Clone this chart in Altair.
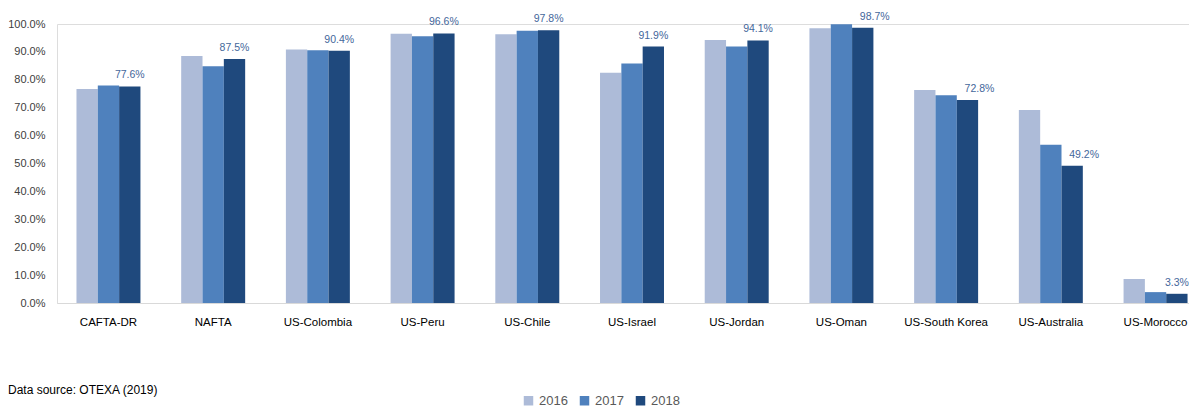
import altair as alt
import pandas as pd

categories = ["CAFTA-DR", "NAFTA", "US-Colombia", "US-Peru", "US-Chile", "US-Israel",
              "US-Jordan", "US-Oman", "US-South Korea", "US-Australia", "US-Morocco"]
years = ["2016", "2017", "2018"]
v2016 = [0.767, 0.885, 0.909, 0.965, 0.963, 0.825, 0.943, 0.985, 0.763, 0.692, 0.086]
v2017 = [0.780, 0.849, 0.906, 0.956, 0.976, 0.858, 0.919, 0.999, 0.745, 0.567, 0.039]
v2018 = [0.776, 0.875, 0.904, 0.966, 0.978, 0.919, 0.941, 0.987, 0.728, 0.492, 0.033]
y_ticks = [0.0, 0.1, 0.2, 0.3, 0.4, 0.5, 0.6, 0.7, 0.8, 0.9, 1.0]
shifted_labels = ["US-Oman", "US-South Korea", "US-Australia"]
colors = ["#ADBBD8", "#4F81BD", "#1F497D"]

rows = []
for i, c in enumerate(categories):
    for y, vals in zip(years, [v2016, v2017, v2018]):
        rows.append({"agreement": c, "year": y, "value": vals[i]})
df = pd.DataFrame(rows)
labels_df = df[df["year"] == "2018"].copy()
labels_plain = labels_df[~labels_df["agreement"].isin(shifted_labels)]
labels_shift = labels_df[labels_df["agreement"].isin(shifted_labels)]

FONT = "Liberation Sans"

x_enc = alt.X("agreement:N", sort=categories, title=None,
              scale=alt.Scale(paddingInner=0.389, paddingOuter=0.1, align=0.93),
              axis=alt.Axis(labelAngle=0, ticks=False, domainColor="#D9D9D9", labelPadding=13,
                            labelFontSize=11.5, labelColor="#000000", labelFont=FONT,
                            labelOverlap=False, labelBound=False))
y_enc = alt.Y("value:Q", title=None, scale=alt.Scale(domain=[0, 1], nice=False),
              axis=alt.Axis(format=".1%", values=y_ticks, tickCount=11, ticks=False,
                            domain=False, grid=False, labelFontSize=11, labelColor="#404040",
                            labelFont=FONT, labelPadding=12, labelOverlap=False))
xo_enc = alt.XOffset("year:N", sort=years, scale=alt.Scale(paddingInner=0, paddingOuter=0))

bars = alt.Chart(df).mark_bar().encode(
    x=x_enc,
    xOffset=xo_enc,
    y=y_enc,
    color=alt.Color("year:N", sort=years, scale=alt.Scale(domain=years, range=colors),
                    legend=alt.Legend(title=None, orient="none", direction="horizontal",
                                      legendX=465, legendY=370, symbolType="square",
                                      symbolSize=90, symbolStrokeWidth=0, labelFontSize=13,
                                      labelColor="#595959", labelFont=FONT, columnPadding=10,
                                      symbolOffset=0, labelOffset=4, padding=0)),
)

def label_layer(data, dx):
    return alt.Chart(data).mark_text(dy=-11, dx=dx, fontSize=10.5, color="#44679B",
                                     font=FONT).encode(
        x=x_enc,
        xOffset=xo_enc,
        y=y_enc,
        text=alt.Text("value:Q", format=".1%"),
    )

texts = label_layer(labels_plain, 0)
texts_shift = label_layer(labels_shift, 12)

source = alt.Chart(pd.DataFrame({"t": ["Data source: OTEXA (2019)"]})).mark_text(
    align="left", baseline="middle", fontSize=12, color="#000000", font=FONT
).encode(x=alt.value(-49), y=alt.value(366), text="t:N")

chart = alt.layer(bars, texts, texts_shift, source).properties(
    width=1132, height=279,
    autosize=alt.AutoSizeParams(type="none"),
    padding={"left": 49, "top": 16, "right": 0, "bottom": 107},
).configure_view(stroke=None).configure_axis(labelOverlap=False).configure(background="#FFFFFF")

chart.save("out.html", embed_options={"renderer": "svg", "actions": False})
